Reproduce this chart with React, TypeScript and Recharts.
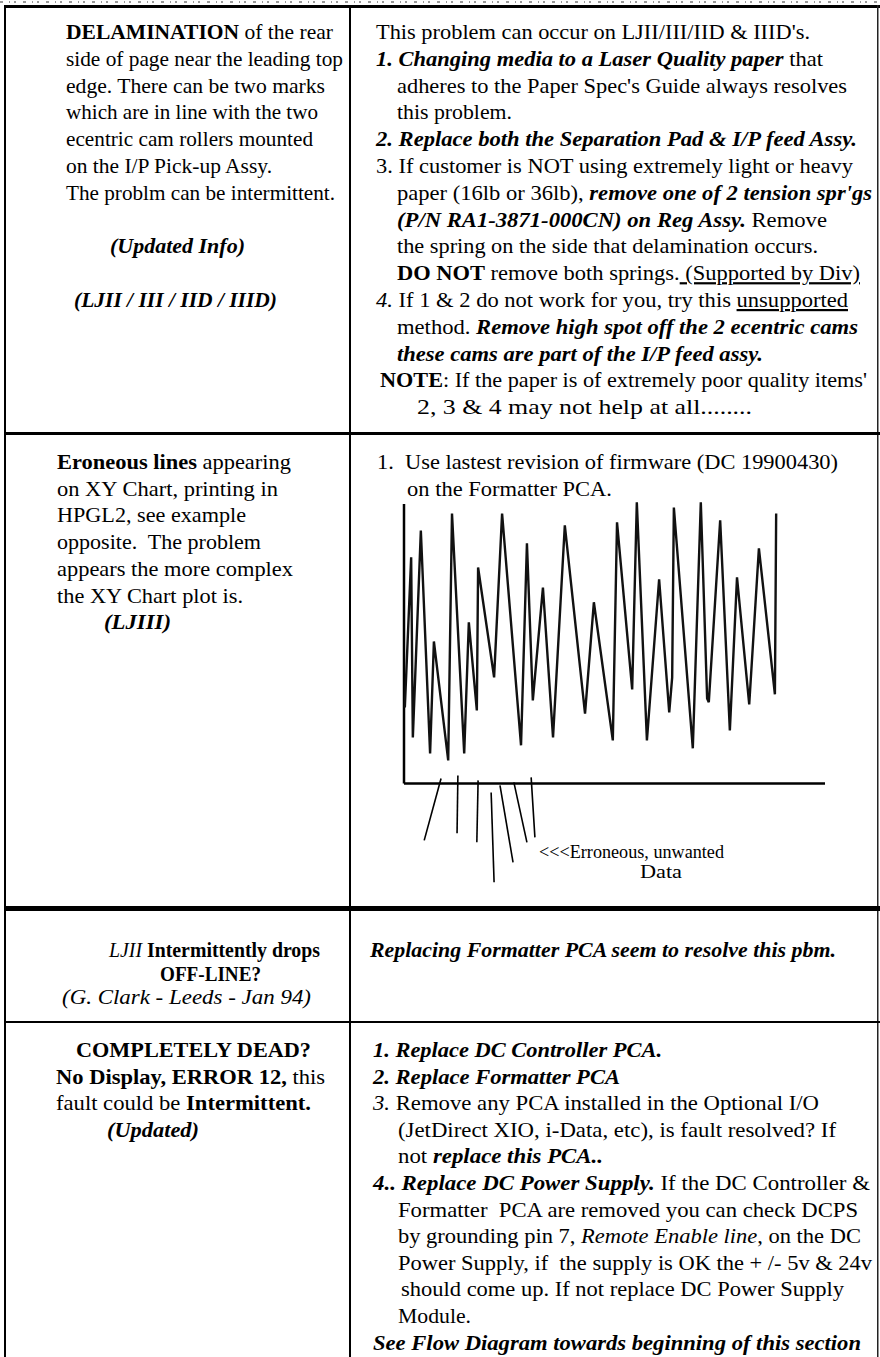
import { LineChart, Line, XAxis, YAxis, ReferenceLine } from 'recharts';

// HPGL2 example plot (x: 0..100 along the axis, y: 0 = x axis)
const plotX = [0.2, 1.7, 2.1, 4.0, 6.2, 7.1, 10.5, 11.4, 14.3, 15.4, 17.3, 17.6, 21.4, 23.3, 27.8, 29.2, 30.6, 33.0, 35.4, 38.2, 43.0, 45.1, 49.6, 50.6, 54.2, 55.3, 57.7, 60.6, 63.0, 63.7, 64.1, 68.6, 70.5, 72.0, 72.4, 75.1, 77.4, 79.1, 82.0, 84.3, 88.1, 88.4];
const plotY = [27.7, 82.5, 16.8, 92.3, 10.9, 51.8, 8.4, 98.5, 10.9, 58.8, 26.6, 78.8, 38.7, 98.5, 13.9, 87.6, 30.3, 71.5, 16.8, 94.2, 25.5, 66.1, 15.7, 95.3, 34.3, 102.6, 15.7, 74.5, 25.9, 38.7, 100.7, 12.8, 102.6, 31.0, 29.6, 96.0, 19.3, 75.2, 28.8, 85.8, 32.5, 98.5];

// the stray "erroneous" strokes under the x axis
const strayX0 = [8.8, 12.8, 17.6, 20.7, 22.8, 26.1, 30.2];
const strayY0 = [1.8, 2.9, 1.1, -3.3, -0.7, 0.4, 2.2];
const strayX1 = [4.8, 12.6, 17.3, 21.4, 25.9, 29.2, 31.1];
const strayY1 = [-20.8, -18.2, -21.5, -36.1, -28.8, -21.5, -19.7];

const axisEnd = 100;
const axisTop = 102;

const zigzag = plotX.map((x, i) => ({ x, y: plotY[i] }));

// text of the page: [markup, left, right]
type TextLine = [string, number, number] | null;
type Block = { top: number; step: number; size?: number; lines: TextLine[] };

const row1Left: TextLine[] = [
  ['{b:DELAMINATION} of the rear', 66, 333],
  ['side of page near the leading top', 66, 343],
  ['edge. There can be two marks', 66, 325],
  ['which are in line with the two', 66, 318],
  ['ecentric cam rollers mounted', 66, 313],
  ['on the I/P Pick-up Assy.', 66, 272],
  ['The problm can be intermittent.', 66, 335],
  null,
  ['{bi:(Updated Info)}', 110, 245],
  null,
  ['{bi:(LJII / III / IID / IIID)}', 74, 277],
];
const row1Right: TextLine[] = [
  ["This problem can occur on LJII/III/IID & IIID's.", 376, 810],
  ['{bi:1. Changing media to a Laser Quality paper} that', 376, 823],
  ["adheres to the Paper Spec's Guide always resolves", 397, 847],
  ['this problem.', 397, 512],
  ['{bi:2. Replace both the Separation Pad & I/P feed Assy.}', 376, 857],
  ['3. If customer is NOT using extremely light or heavy', 376, 853],
  ["paper (16lb or 36lb), {bi:remove one of 2 tension spr'gs}", 397, 872],
  ['{bi:(P/N RA1-3871-000CN) on Reg Assy.} Remove', 397, 827],
  ['the spring on the side that delamination occurs.', 397, 818],
  ['{b:DO NOT} remove both springs.{u: (Supported by Div)}', 397, 860],
  ['{i:4.} If 1 & 2 do not work for you, try this {u:unsupported}', 376, 848],
  ['method. {bi:Remove high spot off the 2 ecentric cams}', 397, 858],
  ['{bi:these cams are part of the I/P feed assy.}', 397, 763],
  ["{b:NOTE}: If the paper is of extremely poor quality items'", 380, 867],
  ['2, 3 & 4 may not help at all........', 417, 752],
];
const row2Left: TextLine[] = [
  ['{b:Eroneous lines} appearing', 57, 291],
  ['on XY Chart, printing in', 57, 278],
  ['HPGL2, see example', 57, 246],
  ['opposite.  The problem', 57, 261],
  ['appears the more complex', 57, 293],
  ['the XY Chart plot is.', 57, 243],
  ['{bi:(LJIII)}', 104, 171],
];
const row2Right: TextLine[] = [
  ['1.  Use lastest revision of firmware (DC 19900430)', 377, 838],
  ['on the Formatter PCA.', 407, 612],
];
const chartNote: TextLine[] = [
  ['<<<Erroneous, unwanted', 539, 724],
  ['Data', 640, 682],
];
const row3Left: TextLine[] = [
  ['{i:LJII} {b:Intermittently drops}', 109, 320],
  ['{b:OFF-LINE?}', 160, 261],
  ['{i:(G. Clark - Leeds - Jan 94)}', 62, 311],
];
const row3Right: TextLine[] = [
  ['{bi:Replacing Formatter PCA seem to resolve this pbm.}', 370, 836],
];
const row4Left: TextLine[] = [
  ['{b:COMPLETELY DEAD?}', 76, 311],
  ['{b:No Display, ERROR 12,} this', 56, 325],
  ['fault could be {b:Intermittent.}', 56, 311],
  ['{bi:(Updated)}', 107, 199],
];
const row4Right: TextLine[] = [
  ['{bi:1. Replace DC Controller PCA.}', 373, 662],
  ['{bi:2. Replace Formatter PCA}', 373, 620],
  ['{i:3.} Remove any PCA installed in the Optional I/O', 373, 819],
  ['(JetDirect XIO, i-Data, etc), is fault resolved? If', 398, 836],
  ['not {bi:replace this PCA..}', 398, 603],
  ['{bi:4.. Replace DC Power Supply.} If the DC Controller &', 373, 870],
  ['Formatter  PCA are removed you can check DCPS', 398, 858],
  ['by grounding pin 7, {i:Remote Enable line}, on the DC', 398, 861],
  ['Power Supply, if  the supply is OK the + /- 5v & 24v', 398, 872],
  ['should come up. If not replace DC Power Supply', 401, 844],
  ['Module.', 398, 471],
  ['{bi:See Flow Diagram towards beginning of this section}', 373, 861],
];

const blocks: Block[] = [
  { top: 39, step: 26.8, lines: row1Left },
  { top: 39, step: 26.8, lines: row1Right },
  { top: 469, step: 26.7, lines: row2Left },
  { top: 469, step: 27, lines: row2Right },
  { top: 858, step: 20, size: 19, lines: chartNote },
  { top: 957, step: 23.5, size: 21, lines: row3Left },
  { top: 957, step: 23.5, size: 21, lines: row3Right },
  { top: 1057, step: 26.6, lines: row4Left },
  { top: 1057, step: 26.6, lines: row4Right },
];

const FONT = "'Liberation Serif', 'Times New Roman', serif";

function parse(s: string) {
  const out: { t: string; st: string }[] = [];
  const re = /\{(bi|b|i|u):([^}]*)\}/g;
  let last = 0;
  let m: RegExpExecArray | null;
  while ((m = re.exec(s))) {
    if (m.index > last) out.push({ t: s.slice(last, m.index), st: '' });
    out.push({ t: m[2], st: m[1] });
    last = re.lastIndex;
  }
  if (last < s.length) out.push({ t: s.slice(last), st: '' });
  return out;
}

function TextBlock({ block }: { block: Block }) {
  return (
    <g>
      {block.lines.map((ln, i) => {
        if (!ln) return null;
        const [s, x0, x1] = ln;
        return (
          <text
            key={i}
            x={x0}
            y={block.top + i * block.step}
            fontSize={block.size ?? 22}
            fill="#000"
            textLength={x1 - x0}
            lengthAdjust="spacingAndGlyphs"
            style={{ whiteSpace: 'pre', fontFamily: FONT }}
          >
            {parse(s).map((p, j) => (
              <tspan
                key={j}
                fontWeight={p.st.includes('b') ? 'bold' : undefined}
                fontStyle={p.st.includes('i') ? 'italic' : undefined}
                textDecoration={p.st === 'u' ? 'underline' : undefined}
              >
                {p.t}
              </tspan>
            ))}
          </text>
        );
      })}
    </g>
  );
}

export default function App() {
  return (
    <div style={{ position: 'absolute', left: 0, top: 0, width: 880, height: 1357, background: '#fff', overflow: 'hidden' }}>
      <svg width={880} height={1357} style={{ position: 'absolute', left: 0, top: 0 }}>
        {/* scan noise along the top edge */}
        <line x1={0} y1={2} x2={880} y2={2} stroke="#9a9a9a" strokeWidth={2} strokeDasharray="3 6 1 4 2 7" />
        {/* table rules */}
        <rect x={4} y={5} width={876} height={3} fill="#000" />
        <rect x={4} y={5} width={2} height={1352} fill="#000" />
        <rect x={877} y={5} width={1.5} height={1352} fill="#222" />
        <rect x={349} y={5} width={2} height={1352} fill="#000" />
        <rect x={4} y={432} width={876} height={3} fill="#000" />
        <rect x={4} y={906} width={876} height={5} fill="#000" />
        <rect x={4} y={1021} width={876} height={2} fill="#000" />
        {blocks.map((b, i) => (
          <TextBlock key={i} block={b} />
        ))}
      </svg>
      <div style={{ position: 'absolute', left: 394, top: 472 }}>
        <LineChart width={441} height={431} data={zigzag} margin={{ top: 10, right: 10, bottom: 10, left: 10 }}>
          <XAxis type="number" dataKey="x" domain={[0, 100]} hide />
          <YAxis type="number" domain={[-40, 110]} hide width={0} />
          <ReferenceLine segment={[{ x: 0, y: 0 }, { x: 0, y: axisTop }]} stroke="#000" strokeWidth={2.5} />
          <ReferenceLine segment={[{ x: 0, y: 0 }, { x: axisEnd, y: 0 }]} stroke="#000" strokeWidth={2.5} />
          {strayX0.map((x, i) => (
            <ReferenceLine
              key={i}
              segment={[{ x, y: strayY0[i] }, { x: strayX1[i], y: strayY1[i] }]}
              stroke="#000"
              strokeWidth={1.6}
            />
          ))}
          <Line type="linear" dataKey="y" stroke="#111" strokeWidth={2.4} dot={false} isAnimationActive={false} />
        </LineChart>
      </div>
    </div>
  );
}
